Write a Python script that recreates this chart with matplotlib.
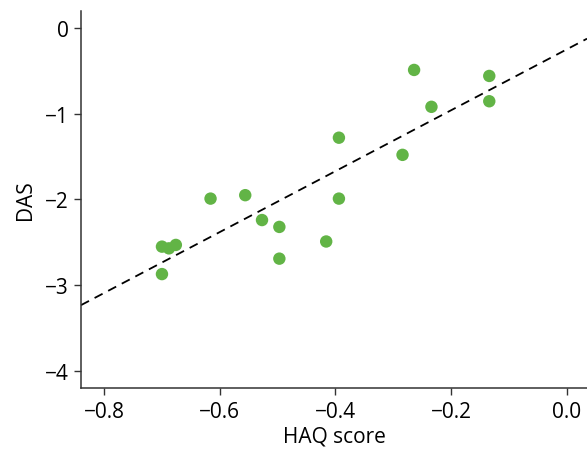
import matplotlib
matplotlib.use("Agg")
import matplotlib.pyplot as plt
import numpy as np

# HAQ score vs DAS
haq = [-0.700, -0.688, -0.676, -0.700, -0.616, -0.556, -0.527, -0.497, -0.497,
       -0.394, -0.394, -0.416, -0.284, -0.264, -0.234, -0.134, -0.134]
das = [-2.55, -2.57, -2.53, -2.87, -1.99, -1.95, -2.24, -2.32, -2.69,
       -1.28, -1.99, -2.49, -1.48, -0.49, -0.92, -0.56, -0.855]

# fitted line
fit_slope = 3.55
fit_intercept = -0.25

x_ticks = [-0.8, -0.6, -0.4, -0.2, 0.0]
y_ticks = [0, -1, -2, -3, -4]

plt.rcParams['font.family'] = ['Open Sans', 'DejaVu Sans']

fig = plt.figure(figsize=(5.87, 4.52), dpi=100)
ax = fig.add_axes([0.138, 0.139, 0.862, 0.835])

xlim = (-0.84, 0.035)
xs = np.array(xlim)
ax.plot(xs, fit_slope * xs + fit_intercept, color='black', lw=1.3,
        linestyle=(0, (5, 3.5)), zorder=2)
ax.scatter(haq, das, s=80, color='#62b446', edgecolors='none', zorder=3)

ax.set_xlim(*xlim)
ax.set_ylim(-4.2, 0.2)
ax.set_xticks(x_ticks)
ax.set_xticklabels(['\u22120.8', '\u22120.6', '\u22120.4', '\u22120.2', '0.0'])
ax.set_yticks(y_ticks)
ax.set_yticklabels(['0', '\u22121', '\u22122', '\u22123', '\u22124'])

for side in ['top', 'right']:
    ax.spines[side].set_visible(False)
for side in ['left', 'bottom']:
    ax.spines[side].set_color('#333333')
    ax.spines[side].set_linewidth(1.1)

ax.tick_params(axis='both', labelsize=15, length=5, width=1, color='#333333',
               direction='out', pad=4)
ax.set_xlabel('HAQ score', fontsize=15, labelpad=3)
ax.set_ylabel('DAS', fontsize=15, labelpad=6)

fig.savefig('out.png', dpi=100)
